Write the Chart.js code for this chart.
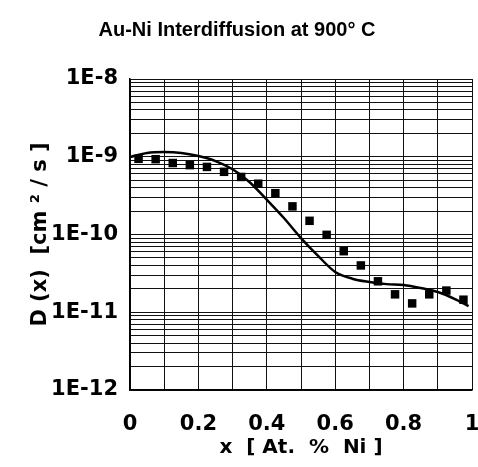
<!DOCTYPE html>
<html lang="en">
<head>
    <meta charset="UTF-8">
    <title>Au-Ni Interdiffusion at 900° C</title>
    <script src="https://cdn.jsdelivr.net/npm/chart.js@4"></script>
    <style>
        body {
            margin: 0;
            background-color: #ffffff;
        }
        canvas {
            display: block;
        }
    </style>
</head>
<body>
    <canvas id="diffChart" width="478" height="467"></canvas>

    <script>
        // measured points (squares)
        const xMeasured = [0.025, 0.075, 0.125, 0.175, 0.225, 0.275, 0.325, 0.375, 0.425, 0.475,
                           0.525, 0.575, 0.625, 0.675, 0.725, 0.775, 0.825, 0.875, 0.925, 0.975];
        const dMeasured = [9.4e-10, 9.3e-10, 8.3e-10, 7.8e-10, 7.4e-10, 6.4e-10, 5.5e-10, 4.5e-10, 3.4e-10, 2.3e-10,
                           1.5e-10, 9.9e-11, 6.1e-11, 4.0e-11, 2.5e-11, 1.7e-11, 1.3e-11, 1.7e-11, 1.9e-11, 1.45e-11];

        // fitted curve
        const xFit = [0, 0.05, 0.1, 0.15, 0.2, 0.25, 0.3, 0.35, 0.4, 0.45, 0.5,
                      0.55, 0.6, 0.65, 0.7, 0.75, 0.8, 0.85, 0.9, 0.95, 0.99];
        const dFit = [9.9e-10, 1.12e-9, 1.15e-9, 1.12e-9, 1.02e-9, 8.8e-10, 6.9e-10, 4.7e-10, 2.8e-10, 1.63e-10, 9.0e-11,
                      5.3e-11, 3.3e-11, 2.7e-11, 2.45e-11, 2.3e-11, 2.24e-11, 2.05e-11, 1.82e-11, 1.48e-11, 1.2e-11];

        const xLabelValues = [0, 0.2, 0.4, 0.6, 0.8, 1];
        const yLabelExponents = [-12, -11, -10, -9, -8];

        const tickFont = { family: 'DejaVu Sans', weight: 'bold', size: 21 };

        const ctx = document.getElementById('diffChart').getContext('2d');

        const diffChart = new Chart(ctx, {
            type: 'scatter',
            data: {
                datasets: [
                    {
                        label: 'fit',
                        data: xFit.map((x, i) => ({ x: x, y: dFit[i] })),
                        showLine: true,
                        borderColor: '#000000',
                        borderWidth: 2.5,
                        pointRadius: 0,
                        tension: 0.4,
                        cubicInterpolationMode: 'monotone'
                    },
                    {
                        label: 'measured',
                        data: xMeasured.map((x, i) => ({ x: x, y: dMeasured[i] })),
                        pointStyle: 'rect',
                        pointRadius: 6,
                        backgroundColor: '#000000',
                        borderColor: '#000000',
                        borderWidth: 0
                    }
                ]
            },
            options: {
                responsive: false,
                animation: false,
                layout: {
                    padding: { left: 0, right: 4, top: 0, bottom: 0 }
                },
                scales: {
                    x: {
                        type: 'linear',
                        min: 0,
                        max: 1,
                        afterFit: s => { s.height = 77; s.paddingLeft = 0; s.paddingRight = 0; },
                        grid: {
                            color: '#111111',
                            lineWidth: 1,
                            drawTicks: false
                        },
                        border: { color: '#000000', width: 1.5 },
                        ticks: {
                            stepSize: 0.1,
                            autoSkip: false,
                            maxRotation: 0,
                            padding: 22,
                            color: '#000000',
                            font: tickFont,
                            callback: v => {
                                const r = Math.round(v * 10) / 10;
                                return xLabelValues.some(l => Math.abs(l - r) < 1e-9) ? String(r) : '';
                            }
                        },
                        title: {
                            display: true,
                            text: 'x  [ At.  %  Ni ]',
                            color: '#000000',
                            font: { family: 'DejaVu Sans', weight: 'bold', size: 20 },
                            padding: { top: 0, bottom: 7 }
                        }
                    },
                    y: {
                        type: 'logarithmic',
                        min: 1e-12,
                        max: 1e-8,
                        afterFit: s => { s.width = 130; },
                        afterBuildTicks: s => {
                            // keep 1..9 per decade only
                            s.ticks = s.ticks.filter(t => {
                                const m = t.value / Math.pow(10, Math.floor(Math.log10(t.value) + 1e-9));
                                return Math.abs(m - Math.round(m)) < 1e-6;
                            });
                        },
                        grid: {
                            color: '#111111',
                            lineWidth: 1,
                            drawTicks: false
                        },
                        border: { color: '#000000', width: 1.5 },
                        ticks: {
                            autoSkip: false,
                            padding: 12,
                            color: '#000000',
                            font: tickFont,
                            callback: v => {
                                const e = Math.round(Math.log10(v));
                                if (Math.abs(Math.log10(v) - e) < 1e-6 && yLabelExponents.includes(e)) {
                                    return '1E' + e;
                                }
                                return '';
                            }
                        },
                        title: {
                            display: true,
                            text: 'D (x)  [cm ² / s ]',
                            color: '#000000',
                            font: { family: 'DejaVu Sans', weight: 'bold', size: 21 },
                            padding: { top: 28, bottom: 0 }
                        }
                    }
                },
                plugins: {
                    legend: { display: false },
                    tooltip: { enabled: false },
                    title: {
                        display: true,
                        text: 'Au-Ni Interdiffusion at 900° C',
                        color: '#000000',
                        font: { family: 'Liberation Sans', weight: 'bold', size: 20 },
                        padding: { top: 18, bottom: 37 }
                    }
                }
            }
        });
    </script>
</body>
</html>
